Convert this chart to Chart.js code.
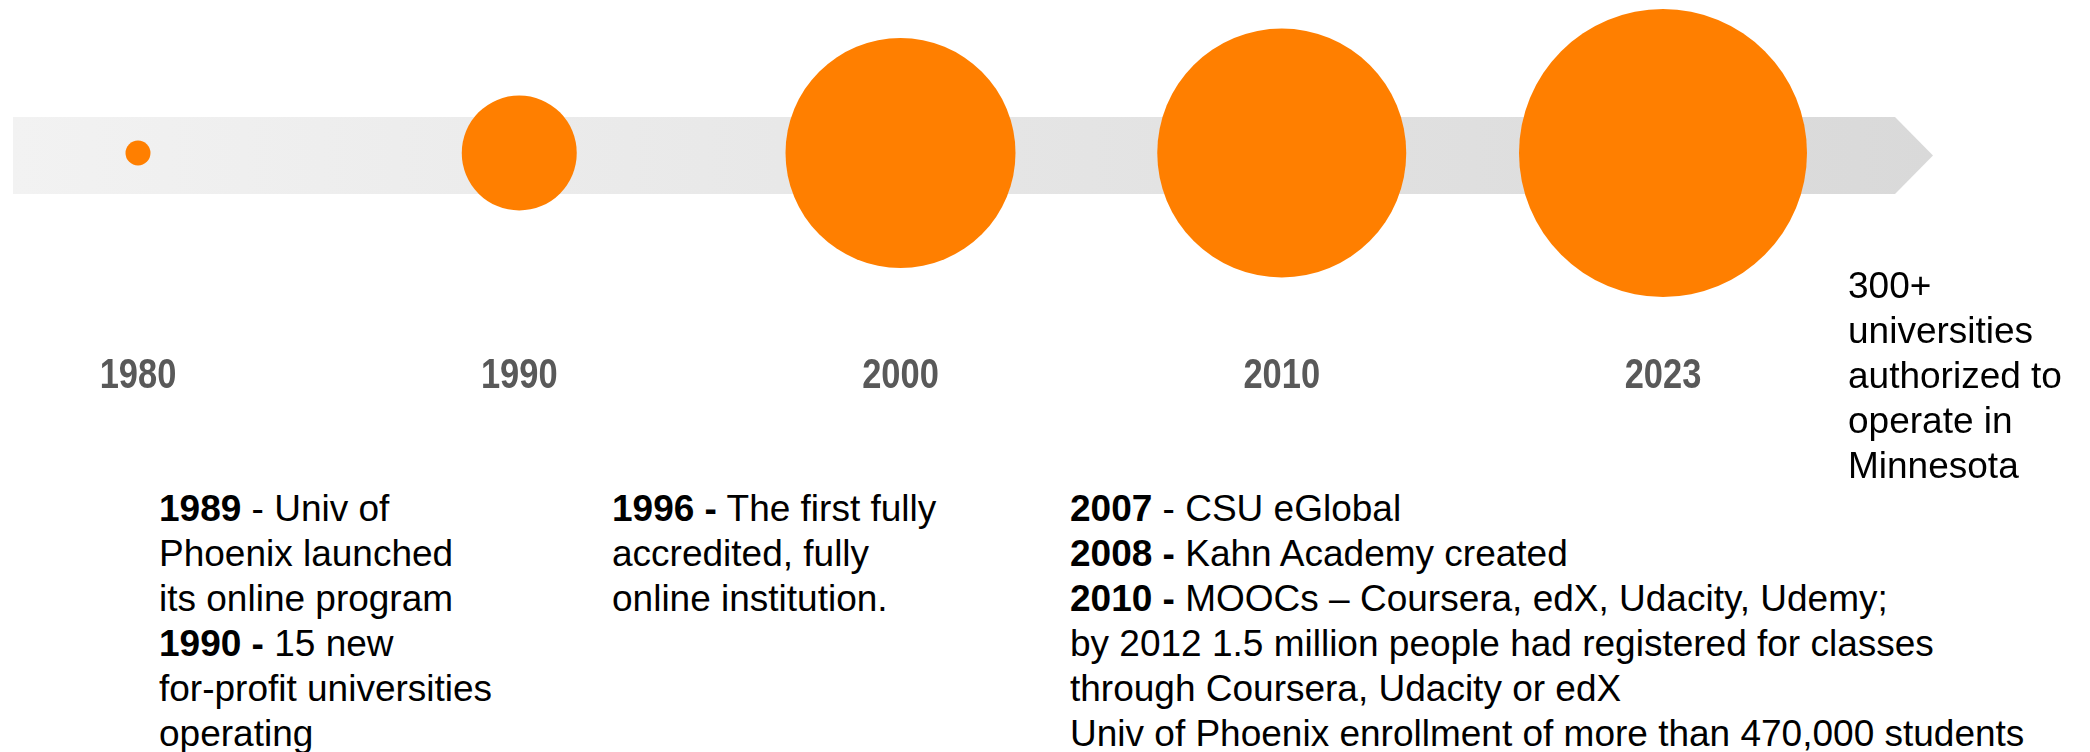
<!DOCTYPE html>
<html>
<head>
<meta charset="utf-8">
<script src="https://cdn.jsdelivr.net/npm/chart.js@4"></script>
<style>
  body { margin: 0; background: #fff; }
  #wrap { position: relative; width: 2090px; height: 752px; overflow: hidden; }
  #c { position: absolute; left: 0; top: 0; }
  .note {
    position: absolute;
    font-family: "Liberation Sans", Arial, sans-serif;
    font-size: 37px;
    line-height: 45px;
    color: #000;
    white-space: nowrap;
  }
</style>
</head>
<body>
<div id="wrap">
  <canvas id="c" width="2090" height="420"></canvas>
</div>
<script>
// timeline years and bubble sizes (radius, px)
const years = ["1980", "1990", "2000", "2010", "2023"];
const radii = [12.5, 57.5, 115, 124.5, 144];

// notes: [bold part, normal part] per line
const note1989 = [
  ["1989", " - Univ of"],
  ["", "Phoenix launched"],
  ["", "its online program"],
  ["1990 -", " 15 new"],
  ["", "for-profit universities"],
  ["", "operating"],
];
const note1996 = [
  ["1996 -", " The first fully"],
  ["", "accredited, fully"],
  ["", "online institution."],
];
const note2010 = [
  ["2007", " - CSU eGlobal"],
  ["2008 -", " Kahn Academy created"],
  ["2010 -", " MOOCs \u2013 Coursera, edX, Udacity, Udemy;"],
  ["", "by 2012 1.5 million people had registered for classes"],
  ["", "through Coursera, Udacity or edX"],
  ["", "Univ of Phoenix enrollment of more than 470,000 students"],
];
const note2023 = [
  ["", "300+"],
  ["", "universities"],
  ["", "authorized to"],
  ["", "operate in"],
  ["", "Minnesota"],
];

function addNote(lines, left, top) {
  const div = document.createElement("div");
  div.className = "note";
  div.style.left = left + "px";
  div.style.top = top + "px";
  lines.forEach((l) => {
    const line = document.createElement("div");
    if (l[0]) {
      const b = document.createElement("b");
      b.textContent = l[0];
      line.appendChild(b);
    }
    line.appendChild(document.createTextNode(l[1]));
    div.appendChild(line);
  });
  document.getElementById("wrap").appendChild(div);
}

addNote(note1989, 159, 486);
addNote(note1996, 612, 486);
addNote(note2010, 1070, 486);
addNote(note2023, 1848, 263);

// grey arrow band behind the bubbles
const arrowBand = {
  id: "arrowBand",
  beforeDatasetsDraw(chart) {
    const ctx = chart.ctx;
    const yc = chart.scales.y.getPixelForValue(0) + 2.5;
    const x0 = 13, x1 = 1895, tip = 1933, h = 38.5;
    const g = ctx.createLinearGradient(x0, 0, tip, 0);
    g.addColorStop(0, "#f2f2f2");
    g.addColorStop(1, "#d9d9d9");
    ctx.save();
    ctx.fillStyle = g;
    ctx.beginPath();
    ctx.moveTo(x0, yc - h);
    ctx.lineTo(x1, yc - h);
    ctx.lineTo(tip, yc);
    ctx.lineTo(x1, yc + h);
    ctx.lineTo(x0, yc + h);
    ctx.closePath();
    ctx.fill();
    ctx.restore();
  },
};

// year labels in a narrow bold face (no Arial Narrow here, so squeeze it)
const narrowTicks = {
  id: "narrowTicks",
  afterDraw(chart) {
    const ctx = chart.ctx;
    const xs = chart.scales.x;
    const base = chart.chartArea.bottom + 82;
    ctx.save();
    ctx.font = "bold 42px 'Liberation Sans', Arial";
    ctx.fillStyle = "#595959";
    ctx.textAlign = "center";
    ctx.textBaseline = "alphabetic";
    xs.ticks.forEach((t, i) => {
      ctx.save();
      ctx.translate(xs.getPixelForTick(i), base);
      ctx.scale(0.82, 1);
      ctx.fillText(xs.getLabelForValue(t.value), 0, 0);
      ctx.restore();
    });
    ctx.restore();
  },
};

new Chart(document.getElementById("c"), {
  type: "bubble",
  data: {
    labels: years,
    datasets: [
      {
        data: years.map((y, i) => ({ x: y, y: 0, r: radii[i] })),
        backgroundColor: "#ff7f00",
        borderWidth: 0,
        hoverRadius: 0,
        clip: false,
      },
    ],
  },
  options: {
    responsive: false,
    devicePixelRatio: 1,
    animation: false,
    layout: {
      autoPadding: false,
      padding: { left: 138, right: 427, top: 0, bottom: 114 },
    },
    plugins: { legend: { display: false }, tooltip: { enabled: false } },
    scales: {
      x: {
        type: "category",
        offset: false,
        grid: { display: false, drawTicks: false },
        border: { display: false },
        ticks: { display: false },
      },
      y: { display: false, min: -1, max: 1 },
    },
  },
  plugins: [arrowBand, narrowTicks],
});
</script>
</body>
</html>
